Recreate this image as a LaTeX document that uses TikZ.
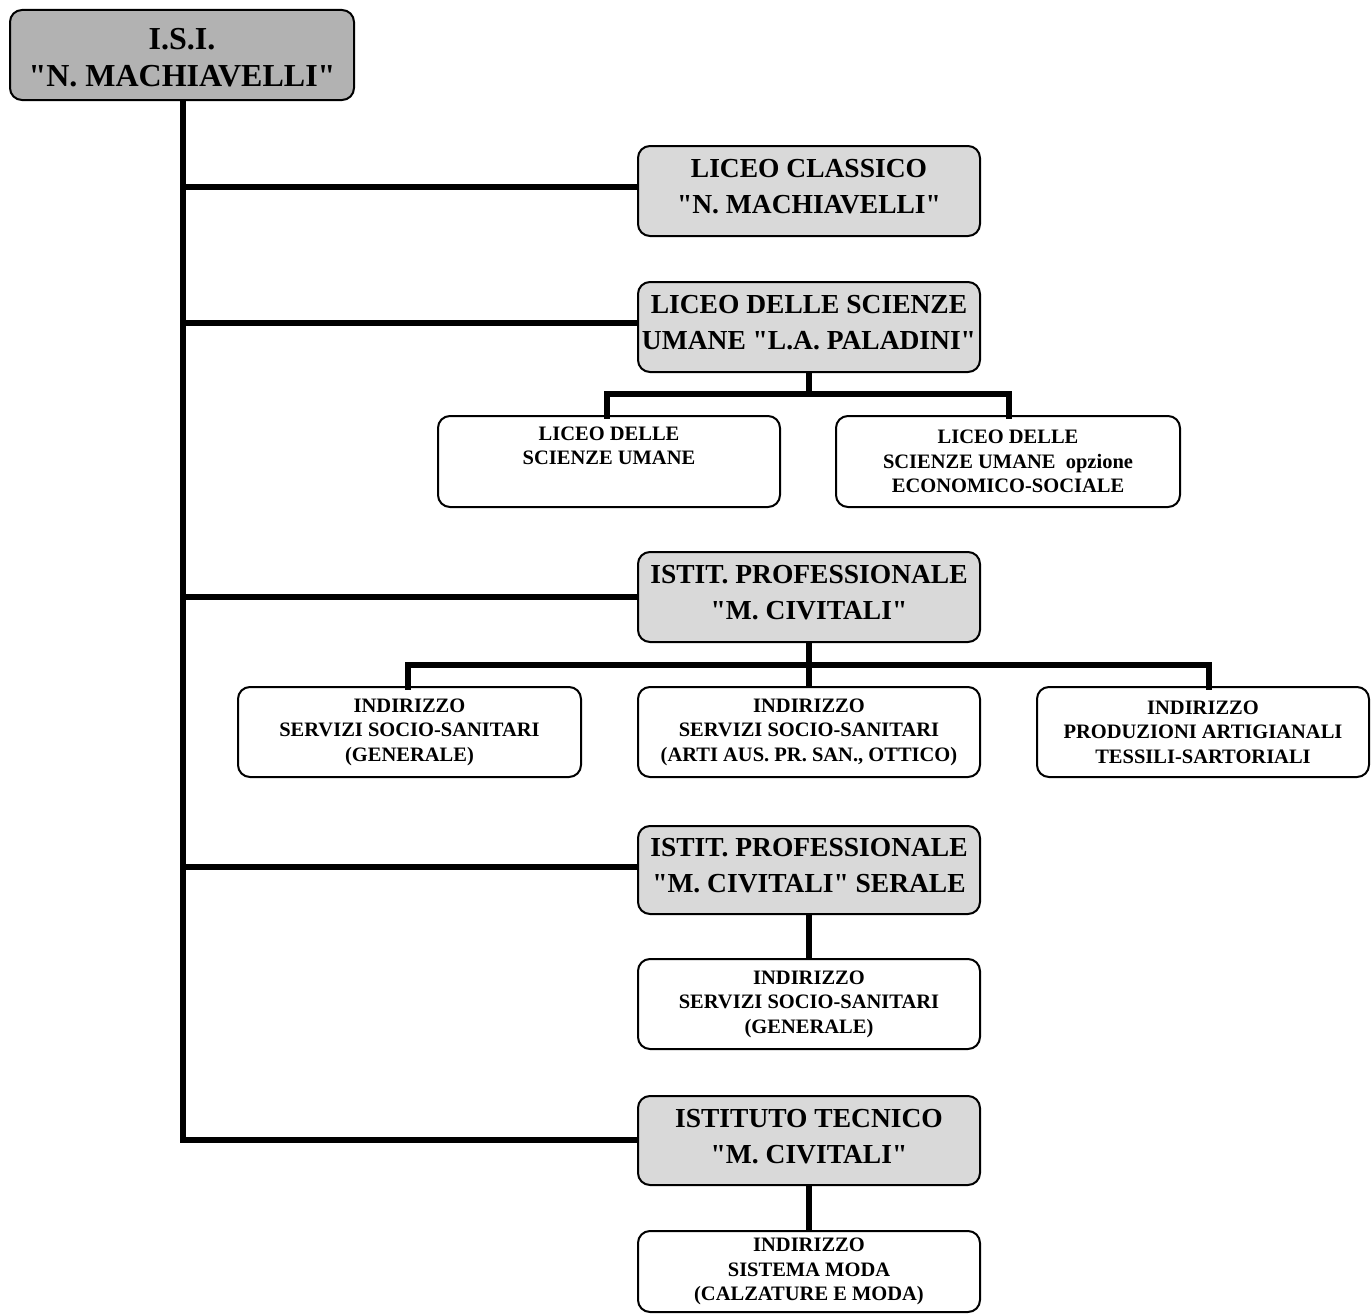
\documentclass[tikz,border=0pt]{standalone}
\usepackage{fontspec}
\setmainfont{Liberation Serif}[Ligatures=TeXOff]
\begin{document}
\begin{tikzpicture}[x=1pt,y=-1pt,
  box/.style={draw=black, line width=2pt, rounded corners=12pt, align=center, inner sep=0pt, outer sep=0pt, anchor=north west, font=\bfseries},
  mtext/.style={align=center, inner sep=0pt, font=\bfseries\fontsize{27.5}{36}\selectfont, yshift=4pt},
  rtext/.style={align=center, inner sep=0pt, font=\bfseries\fontsize{32}{37}\selectfont, yshift=-3pt},
  mainbox/.style={box, fill=gray!30, label={[mtext]center:{#1}}},
  rootbox/.style={box, fill=gray!60, label={[rtext]center:{#1}}},
  subbox/.style={box, fill=white, font=\bfseries\fontsize{20.5}{24.5}\selectfont},
  conn/.style={line width=6pt, line cap=butt},
  connr/.style={line width=6pt, line cap=rect}]
\useasboundingbox (0,0) rectangle (1371,1314);
% nodes
\node[rootbox={I.S.I.\\"N. MACHIAVELLI"}, minimum width=344pt, minimum height=90pt] (root) at (10,10) {};
\node[mainbox={LICEO CLASSICO\\"N. MACHIAVELLI"}, minimum width=342pt, minimum height=90pt] (lc) at (638,146) {};
\node[mainbox={LICEO DELLE SCIENZE\\UMANE "L.A. PALADINI"}, minimum width=342pt, minimum height=90pt] (lsu) at (638,282) {};
\node[subbox, minimum width=342pt, minimum height=91pt] (su1) at (438,416) {LICEO DELLE\\SCIENZE UMANE\\\strut};
\node[subbox, minimum width=344pt, minimum height=91pt] (su2) at (836,416) {LICEO DELLE\\SCIENZE UMANE\ \ opzione\\ECONOMICO-SOCIALE};
\node[mainbox={ISTIT. PROFESSIONALE\\"M. CIVITALI"}, minimum width=342pt, minimum height=90pt] (ip) at (638,552) {};
\node[subbox, minimum width=343pt, minimum height=90pt] (ip1) at (238,687) {INDIRIZZO\\SERVIZI SOCIO-SANITARI\\(GENERALE)};
\node[subbox, minimum width=342pt, minimum height=90pt] (ip2) at (638,687) {INDIRIZZO\\SERVIZI SOCIO-SANITARI\\(ARTI AUS. PR. SAN., OTTICO)};
\node[subbox, minimum width=332pt, minimum height=90pt] (ip3) at (1037,687) {INDIRIZZO\\PRODUZIONI ARTIGIANALI\\TESSILI-SARTORIALI};
\node[mainbox={ISTIT. PROFESSIONALE\\"M. CIVITALI" SERALE}, minimum width=342pt, minimum height=88pt] (ips) at (638,826) {};
\node[subbox, minimum width=342pt, minimum height=90pt] (ips1) at (638,959) {INDIRIZZO\\SERVIZI SOCIO-SANITARI\\(GENERALE)};
\node[mainbox={ISTITUTO TECNICO\\"M. CIVITALI"}, minimum width=342pt, minimum height=89pt] (it) at (638,1096) {};
\node[subbox, minimum width=342pt, minimum height=81pt] (it1) at (638,1231) {INDIRIZZO\\SISTEMA MODA\\(CALZATURE E MODA)};
% trunk
\coordinate (tb) at (183,1140);
\draw[conn] (root.south -| tb) -- ([yshift=3pt]tb) -- (tb) -- (it.west |- tb);
\draw[conn] (183,187) -- (lc.west |- 0,187);
\draw[conn] (183,323) -- (lsu.west |- 0,323);
\draw[conn] (183,597) -- (ip.west |- 0,597);
\draw[conn] (183,867) -- (ips.west |- 0,867);
% liceo SU children
\coordinate (lsuj) at (809,394);
\draw[conn] (lsu.south) -- (lsuj);
\draw[connr] (su1.north -| 607,0) -- (607,394) -- (lsuj) -- (1009,394) -- (su2.north -| 1009,0);
% ip children
\coordinate (ipj) at (809,665);
\draw[conn] (ip.south) -- (ipj) -- (ip2.north);
\draw[connr] (ip1.north -| 408,0) -- (408,665) -- (ipj) -- (1209,665) -- (ip3.north -| 1209,0);
% serale
\draw[conn] (ips.south) -- (ips1.north);
% tecnico
\draw[conn] (it.south) -- (it1.north);
\end{tikzpicture}
\end{document}
